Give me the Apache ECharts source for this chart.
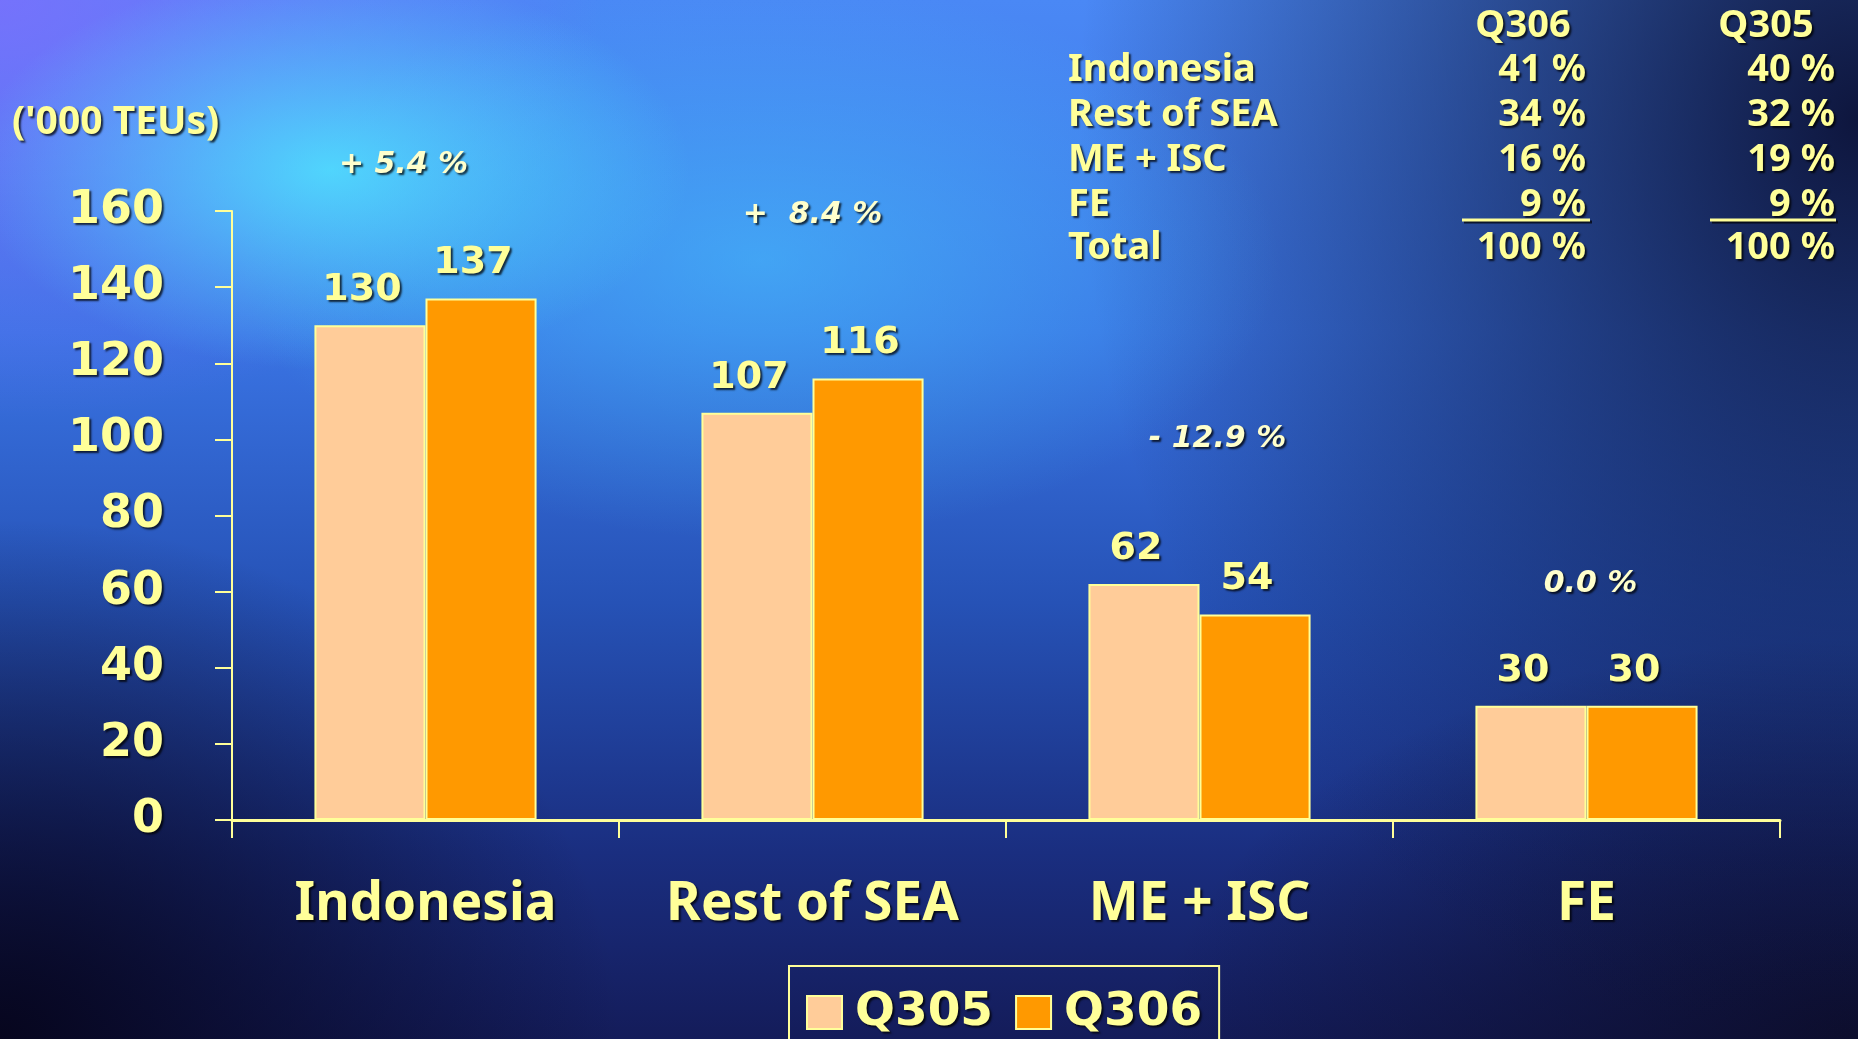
<!DOCTYPE html>
<html>
<head>
<meta charset="utf-8">
<script src="https://cdn.jsdelivr.net/npm/echarts@6/dist/echarts.min.js"></script>
<style>
html, body { margin: 0; padding: 0; }
#main {
    width: 1858px; height: 1039px;
    background:
        radial-gradient(ellipse 360px 200px at 330px 170px, rgba(80,228,255,0.85), rgba(80,228,255,0) 100%),
        radial-gradient(ellipse 520px 280px at 760px 260px, rgba(70,200,255,0.55), rgba(70,200,255,0) 100%),
        radial-gradient(ellipse 600px 420px at 0px 0px, rgba(135,105,255,0.7), rgba(135,105,255,0) 100%),
        radial-gradient(ellipse 620px 520px at 0px 1039px, rgba(6,5,28,0.97), rgba(6,5,28,0) 100%),
        radial-gradient(ellipse 780px 950px at 1858px 120px, rgba(11,16,52,0.95), rgba(11,16,52,0) 100%),
        radial-gradient(ellipse 700px 400px at 1858px 1039px, rgba(12,12,40,0.9), rgba(12,12,40,0) 100%),
        linear-gradient(180deg, #4a88f5 0%, #3a74e4 32%, #2652b6 58%, #1a2e80 82%, #141c5a 100%);
}
</style>
</head>
<body>
<div id="main"></div>
<script>
// 数据
var categories = ['Indonesia', 'Rest of SEA', 'ME + ISC', 'FE'];
var q305 = [130, 107, 62, 30];
var q306 = [137, 116, 54, 30];
var growth = ['+ 5.4 %', '+  8.4 %', '- 12.9 %', '0.0 %'];

var shareRows = ['Indonesia', 'Rest of SEA', 'ME + ISC', 'FE', 'Total'];
var shareQ306 = ['41 %', '34 %', '16 %', '9 %', '100 %'];
var shareQ305 = ['40 %', '32 %', '19 %', '9 %', '100 %'];

// 增长率标注：离柱顶的高度（数据单位）和水平偏移（像素）
var noteLift = [35, 43, 38, 32];
var noteShift = [-22, 0, 18, 4];

var yellow = '#FFFF99';
var shadow = {
    textShadowColor: 'rgba(0,0,0,0.75)',
    textShadowOffsetX: 2,
    textShadowOffsetY: 2,
    textShadowBlur: 2
};

var notes = categories.map(function (c, i) {
    return {
        value: [i, Math.max(q305[i], q306[i]) + noteLift[i]],
        label: { offset: [noteShift[i], 0] }
    };
});

// 右上角份额表
var graphics = [{
    type: 'text', left: 12, top: 103,
    style: Object.assign({ text: "('000 TEUs)", fill: yellow, font: 'bold 39px "Noto Sans"' }, shadow)
}];
var rowY = [70, 115, 160, 205, 248];
var tableFont = 'bold 38px "Noto Sans"';
graphics.push({
    type: 'text', x: 1523, y: 26,
    style: Object.assign({ text: 'Q306', fill: yellow, font: tableFont, align: 'center', verticalAlign: 'middle' }, shadow)
});
graphics.push({
    type: 'text', x: 1766, y: 26,
    style: Object.assign({ text: 'Q305', fill: yellow, font: tableFont, align: 'center', verticalAlign: 'middle' }, shadow)
});
shareRows.forEach(function (r, i) {
    graphics.push({
        type: 'text', x: 1068, y: rowY[i],
        style: Object.assign({ text: r, fill: yellow, font: tableFont, verticalAlign: 'middle' }, shadow)
    });
    graphics.push({
        type: 'text', x: 1586, y: rowY[i],
        style: Object.assign({ text: shareQ306[i], fill: yellow, font: tableFont, align: 'right', verticalAlign: 'middle' }, shadow)
    });
    graphics.push({
        type: 'text', x: 1835, y: rowY[i],
        style: Object.assign({ text: shareQ305[i], fill: yellow, font: tableFont, align: 'right', verticalAlign: 'middle' }, shadow)
    });
});
graphics.push({
    type: 'line', shape: { x1: 1462, y1: 220, x2: 1590, y2: 220 },
    style: { stroke: yellow, lineWidth: 3, shadowColor: 'rgba(0,0,0,0.7)', shadowOffsetX: 2, shadowOffsetY: 2 }
});
graphics.push({
    type: 'line', shape: { x1: 1710, y1: 220, x2: 1836, y2: 220 },
    style: { stroke: yellow, lineWidth: 3, shadowColor: 'rgba(0,0,0,0.7)', shadowOffsetX: 2, shadowOffsetY: 2 }
});

var chart = echarts.init(document.getElementById('main'), null, { renderer: 'canvas' });

var barLabel = Object.assign({
    show: true, position: 'top', distance: 16, offset: [-8, 0],
    color: yellow, fontFamily: 'DejaVu Sans', fontWeight: 'bold', fontSize: 38
}, shadow);

var option = {
    backgroundColor: 'transparent',
    animation: false,
    grid: { left: 232, right: 78, top: 211, bottom: 219, containLabel: false },
    legend: {
        data: ['Q305', 'Q306'],
        icon: 'rect',
        left: 789, top: 966,
        padding: [23, 17, 60, 17],
        itemWidth: 35, itemHeight: 33, itemGap: 22,
        borderColor: yellow, borderWidth: 2,
        textStyle: Object.assign({
            color: yellow, fontFamily: 'DejaVu Sans', fontWeight: 'bold', fontSize: 47,
            padding: [0, 0, 0, 8]
        }, shadow)
    },
    xAxis: {
        type: 'category',
        data: categories,
        axisLine: { lineStyle: { color: yellow, width: 3 } },
        axisTick: { show: true, length: 18, lineStyle: { color: yellow, width: 2 } },
        axisLabel: Object.assign({
            color: yellow, fontFamily: 'Noto Sans', fontWeight: 'bold', fontSize: 53, margin: 58
        }, shadow),
        splitLine: { show: false }
    },
    yAxis: {
        type: 'value',
        min: 0, max: 160, interval: 20,
        axisLine: { show: true, lineStyle: { color: yellow, width: 2 } },
        axisTick: { show: true, length: 17, lineStyle: { color: yellow, width: 2 } },
        axisLabel: Object.assign({
            color: yellow, fontFamily: 'DejaVu Sans', fontWeight: 'bold', fontSize: 46, margin: 68,
            padding: [8, 0, 0, 0]
        }, shadow),
        splitLine: { show: false }
    },
    graphic: graphics,
    series: [
        {
            name: 'Q305', type: 'bar', data: q305,
            barGap: '0%', barCategoryGap: '42.6%',
            itemStyle: { color: '#FFCC99', borderColor: yellow, borderWidth: 2 },
            label: barLabel
        },
        {
            name: 'Q306', type: 'bar', data: q306,
            itemStyle: { color: '#FF9900', borderColor: yellow, borderWidth: 2 },
            label: barLabel
        },
        {
            name: 'growth', type: 'scatter', data: notes,
            symbolSize: 0, silent: true, clip: false,
            itemStyle: { color: '#FFFFCC', opacity: 1 },
            label: Object.assign({
                show: true, position: 'inside', opacity: 1,
                formatter: function (p) { return growth[p.dataIndex]; },
                color: '#FFFFCC', fontFamily: 'DejaVu Sans', fontWeight: 'bold',
                fontStyle: 'italic', fontSize: 30
            }, shadow)
        }
    ]
};

chart.setOption(option);
</script>
</body>
</html>
